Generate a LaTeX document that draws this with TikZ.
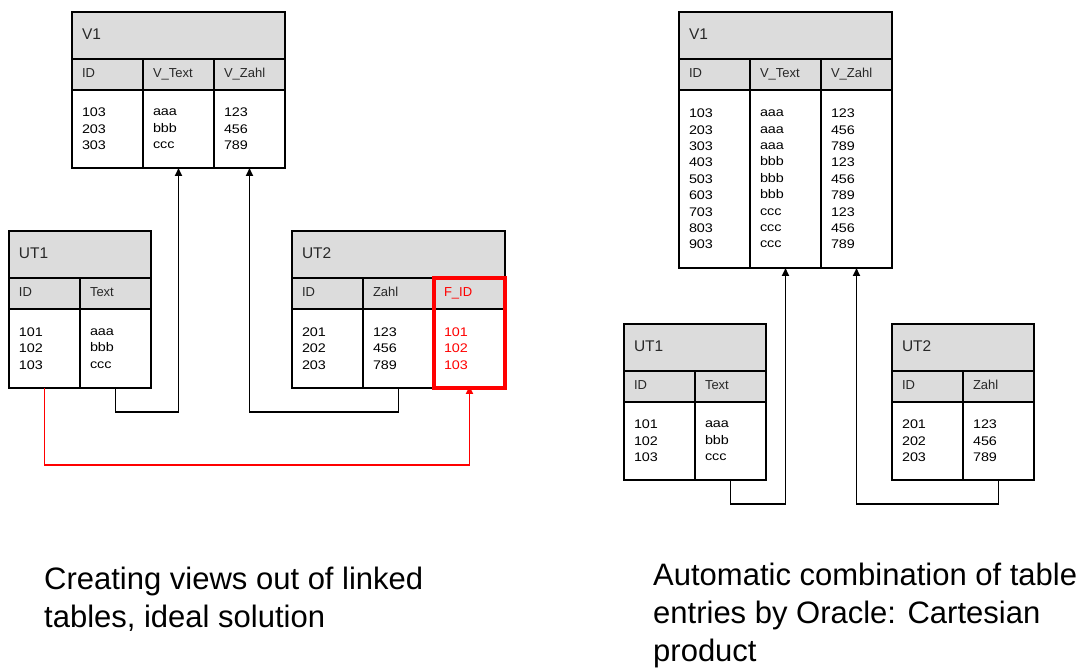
\documentclass[tikz,border=0pt]{standalone}
\usepackage{fontspec}
\setmainfont{Liberation Sans}
\newfontfamily\datafont[FakeStretch=1.15]{Liberation Sans}
\usetikzlibrary{arrows.meta}
\definecolor{tabgray}{RGB}{220,220,220}
\definecolor{tabtext}{RGB}{40,40,40}
\begin{document}
\begin{tikzpicture}[x=1pt,y=-1pt,
  tabtitle/.style={draw,line width=1.5pt,fill=tabgray,anchor=north west,inner xsep=10pt,inner ysep=0pt,outer sep=0pt,
    text width=#1,minimum height=47pt,text height=11pt,text depth=3pt,text=tabtext,font=\fontsize{15.5}{18}\selectfont},
  colhead/.style={draw,line width=1.5pt,fill=tabgray,anchor=north west,inner xsep=10pt,inner ysep=0pt,outer sep=0pt,
    text width=51pt,minimum height=31pt,text height=9.5pt,text depth=3pt,text=tabtext,font=\fontsize{13}{15}\selectfont},
  colbody/.style={draw,line width=1.5pt,fill=white,anchor=north west,inner xsep=10pt,inner ysep=0pt,outer sep=0pt,
    text width=51pt,minimum height=#1,align=left,font=\datafont\fontsize{12.5}{16.4}\selectfont},
  link/.style={line width=1.8pt,-{Triangle[length=8pt,width=7pt]}},
  caption/.style={anchor=north west,inner sep=0pt,align=left,font=\fontsize{31}{37.8}\selectfont}]
\fill[white] (0,0) rectangle (1080,668);
\useasboundingbox (0,0) rectangle (1080,668);

% left: ideal solution
\node[tabtitle=193pt] (lv) at (72,12) {V1};
\node[colhead] (lvh1) at (lv.south west) {ID};
\node[colhead] (lvh2) at (lvh1.north east) {V\_Text};
\node[colhead] (lvh3) at (lvh2.north east) {V\_Zahl};
\node[colbody=78pt] (lvb1) at (lvh1.south west) {103\\203\\303};
\node[colbody=78pt] (lvb2) at (lvb1.north east) {aaa\\bbb\\ccc};
\node[colbody=78pt] (lvb3) at (lvb2.north east) {123\\456\\789};

\node[tabtitle=122pt] (lu1) at (9,231) {UT1};
\node[colhead] (lu1h1) at (lu1.south west) {ID};
\node[colhead] (lu1h2) at (lu1h1.north east) {Text};
\node[colbody=79pt] (lu1b1) at (lu1h1.south west) {101\\102\\103};
\node[colbody=79pt] (lu1b2) at (lu1b1.north east) {aaa\\bbb\\ccc};

\node[tabtitle=193pt] (lu2) at (292,231) {UT2};
\node[colhead] (lu2h1) at (lu2.south west) {ID};
\node[colhead] (lu2h2) at (lu2h1.north east) {Zahl};
\node[colhead,text=red] (lu2h3) at (lu2h2.north east) {F\_ID};
\node[colbody=79pt] (lu2b1) at (lu2h1.south west) {201\\202\\203};
\node[colbody=79pt] (lu2b2) at (lu2b1.north east) {123\\456\\789};
\node[colbody=79pt,text=red] (lu2b3) at (lu2b2.north east) {101\\102\\103};
\draw[red,line width=4pt] (lu2h3.north west) rectangle (lu2b3.south east);

\draw[link] (lu1b2.south) -- ++(0,24) -| (lvb2.south);
\draw[link] (lu2b2.south) -- ++(0,24) -| (lvb3.south);
\draw[link,red] (lu1b1.south) -- ++(0,77) -| ([yshift=2pt]lu2b3.south);

% right: cartesian product
\node[tabtitle=193pt] (rv) at (679,12) {V1};
\node[colhead] (rvh1) at (rv.south west) {ID};
\node[colhead] (rvh2) at (rvh1.north east) {V\_Text};
\node[colhead] (rvh3) at (rvh2.north east) {V\_Zahl};
\node[colbody=178pt] (rvb1) at (rvh1.south west) {103\\203\\303\\403\\503\\603\\703\\803\\903};
\node[colbody=178pt] (rvb2) at (rvb1.north east) {aaa\\aaa\\aaa\\bbb\\bbb\\bbb\\ccc\\ccc\\ccc};
\node[colbody=178pt] (rvb3) at (rvb2.north east) {123\\456\\789\\123\\456\\789\\123\\456\\789};

\node[tabtitle=122pt] (ru1) at (624,324) {UT1};
\node[colhead] (ru1h1) at (ru1.south west) {ID};
\node[colhead] (ru1h2) at (ru1h1.north east) {Text};
\node[colbody=78pt] (ru1b1) at (ru1h1.south west) {101\\102\\103};
\node[colbody=78pt] (ru1b2) at (ru1b1.north east) {aaa\\bbb\\ccc};

\node[tabtitle=122pt] (ru2) at (892,324) {UT2};
\node[colhead] (ru2h1) at (ru2.south west) {ID};
\node[colhead] (ru2h2) at (ru2h1.north east) {Zahl};
\node[colbody=78pt] (ru2b1) at (ru2h1.south west) {201\\202\\203};
\node[colbody=78pt] (ru2b2) at (ru2b1.north east) {123\\456\\789};

\draw[link] (ru1b2.south) -- ++(0,24) -| (rvb2.south);
\draw[link] (ru2b2.south) -- ++(0,24) -| (rvb3.south);

\node[caption] (capl) at (44,567) {Creating views out of linked\\tables, ideal solution};
\node[caption] (capr) at (653,563) {Automatic combination of table\\entries by Oracle: Cartesian\\product};
\end{tikzpicture}
\end{document}
